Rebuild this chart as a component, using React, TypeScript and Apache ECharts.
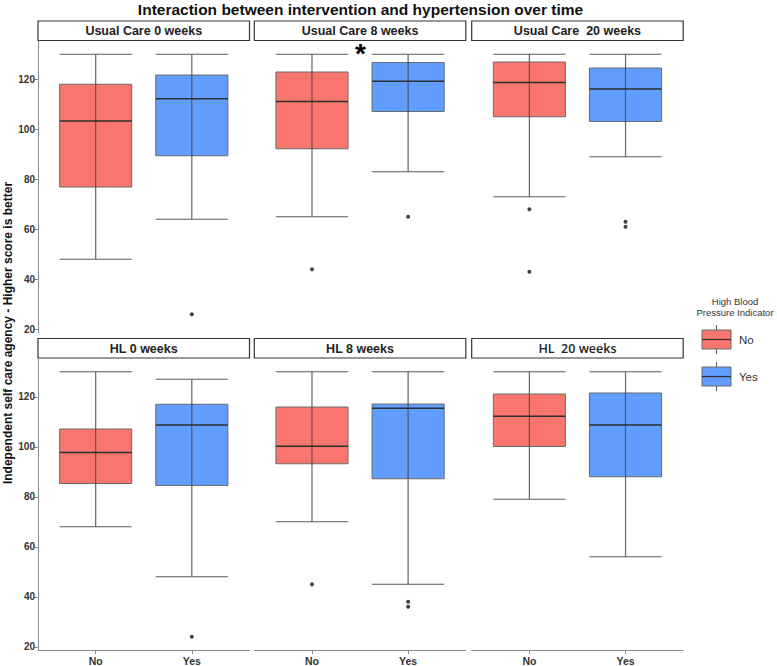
import React, { useEffect, useRef } from "react";
import * as echarts from "echarts";

const panelTitles = [
  "Usual Care 0 weeks",
  "Usual Care 8 weeks",
  "Usual Care  20 weeks",
  "HL 0 weeks",
  "HL 8 weeks",
  "HL  20 weeks",
];
const groups = ["No", "Yes"];
const yTicks = [20, 40, 60, 80, 100, 120];

// [min, Q1, median, Q3, max] for "No" per panel
const statsNo = [
  [48, 76.9, 103.3, 118, 130],
  [65, 92.2, 111.1, 122.9, 130],
  [73, 105, 118.7, 126.9, 130],
  [68, 85.3, 97.7, 107.1, 130],
  [70, 93.2, 100.2, 115.9, 130],
  [79, 100.1, 112.2, 121.1, 130],
];
// [min, Q1, median, Q3, max] for "Yes" per panel
const statsYes = [
  [64, 89.4, 112.2, 121.7, 130],
  [83, 107.1, 119.2, 126.7, 130],
  [89, 103.1, 116.1, 124.5, 130],
  [48, 84.5, 108.7, 117, 127],
  [45, 87.2, 115.4, 117.1, 130],
  [56, 88, 108.7, 121.5, 130],
];
const outliersNo = [[], [44], [68, 43], [], [45], []];
const outliersYes = [[26], [65], [63, 61], [24], [38, 36], []];

const RED = "#F8766D";
const BLUE = "#619CFF";
const colors = [RED, BLUE];

const panelLefts = [38, 254.3, 471.7];
const panelTops = [41, 358.5];
const panelW = 211.5;
const panelH = 291.5;
const stripH = 19.5;
const FONT = "'Liberation Sans', Arial, sans-serif";

export default function App() {
  const ref = useRef<HTMLDivElement>(null);
  useEffect(() => {
    if (!ref.current) return;
    const chart = echarts.init(ref.current, null, { renderer: "svg" });
    const grids: any[] = [];
    const xAxes: any[] = [];
    const yAxes: any[] = [];
    const series: any[] = [];
    const graphics: any[] = [];
    for (let i = 0; i < 6; i++) {
      const r = Math.floor(i / 3);
      const c = i % 3;
      const left = panelLefts[c];
      const top = panelTops[r];
      grids.push({ left, top, width: panelW, height: panelH });
      xAxes.push({
        type: "value",
        gridIndex: i,
        min: -0.6,
        max: 1.6,
        splitLine: { show: false },
        axisLine: { show: r === 1, onZero: false, lineStyle: { color: "#8c8c8c", width: 1 } },
        axisTick: { show: r === 1, length: 4, customValues: [0, 1], lineStyle: { color: "#8c8c8c" } },
        axisLabel: {
          show: r === 1,
          customValues: [0, 1],
          formatter: (v: number) => groups[Math.round(v)] ?? "",
          color: "#333",
          fontWeight: "bold",
          fontSize: 10.5,
          fontFamily: FONT,
          margin: 5,
        },
      });
      yAxes.push({
        type: "value",
        gridIndex: i,
        min: 18.7,
        max: 135.3,
        splitLine: { show: false },
        axisLine: { show: c === 0, onZero: false, lineStyle: { color: "#8c8c8c", width: 1 } },
        axisTick: { show: c === 0, length: 4, customValues: yTicks, lineStyle: { color: "#8c8c8c" } },
        axisLabel: {
          show: c === 0,
          customValues: yTicks,
          color: "#333",
          fontWeight: "bold",
          fontSize: 10,
          fontFamily: FONT,
          margin: 3,
        },
      });
      const data = [
        [0, ...statsNo[i], 0],
        [1, ...statsYes[i], 1],
      ];
      series.push({
        type: "custom",
        xAxisIndex: i,
        yAxisIndex: i,
        data,
        encode: { x: 0, y: [1, 2, 3, 4, 5] },
        renderItem: (params: any, api: any) => {
          const x = api.value(0);
          const pMin = api.coord([x, api.value(1)]);
          const pQ1 = api.coord([x, api.value(2)]);
          const pMed = api.coord([x, api.value(3)]);
          const pQ3 = api.coord([x, api.value(4)]);
          const pMax = api.coord([x, api.value(5)]);
          const w = api.size([0.75, 0])[0];
          const h = w / 2;
          const cx = pMed[0];
          const col = colors[api.value(6)];
          const lineStyle = { stroke: "#5a5a5a", lineWidth: 1.2 };
          return {
            type: "group",
            children: [
              { type: "line", shape: { x1: cx - h, y1: pMax[1], x2: cx + h, y2: pMax[1] }, style: lineStyle },
              { type: "line", shape: { x1: cx - h, y1: pMin[1], x2: cx + h, y2: pMin[1] }, style: lineStyle },
              {
                type: "rect",
                shape: { x: cx - h, y: pQ3[1], width: w, height: pQ1[1] - pQ3[1] },
                style: { fill: col, stroke: "#6a6a6a", lineWidth: 1 },
              },
              { type: "line", shape: { x1: cx, y1: pMax[1], x2: cx, y2: pMin[1] }, style: { stroke: "#4a4a4a", lineWidth: 1.2, opacity: 0.85 } },
              { type: "line", shape: { x1: cx - h, y1: pMed[1], x2: cx + h, y2: pMed[1] }, style: { stroke: "#2e2e2e", lineWidth: 1.6 } },
            ],
          };
        },
      });
      const outData: number[][] = [];
      outliersNo[i].forEach((v) => outData.push([0, v]));
      outliersYes[i].forEach((v) => outData.push([1, v]));
      series.push({
        type: "scatter",
        xAxisIndex: i,
        yAxisIndex: i,
        data: outData,
        symbolSize: 4,
        itemStyle: { color: "#111" },
      });
      const stripTop = r === 0 ? 21 : 338.5;
      graphics.push({
        type: "rect",
        shape: { x: left, y: stripTop, width: panelW, height: stripH },
        style: { fill: "#fff", stroke: "#333", lineWidth: 1.2 },
      });
      graphics.push({
        type: "text",
        x: left + panelW / 2,
        y: stripTop + stripH / 2 + 0.5,
        style: {
          text: panelTitles[i],
          fill: "#222",
          font: i === 5 ? `600 12.5px 'Open Sans', sans-serif` : `bold 12.5px ${FONT}`,
          textAlign: "center",
          textVerticalAlign: "middle",
        },
      });
    }

    // title
    graphics.push({
      type: "text",
      x: 360.5,
      y: 9,
      style: {
        text: "Interaction between intervention and hypertension over time",
        fill: "#111",
        font: `bold 15.5px ${FONT}`,
        textAlign: "center",
        textVerticalAlign: "middle",
      },
    });
    // y axis title
    graphics.push({
      type: "text",
      x: 8,
      y: 333,
      rotation: Math.PI / 2,
      style: {
        text: "Independent self care agency - Higher score is better",
        fill: "#111",
        font: `bold 12px ${FONT}`,
        textAlign: "center",
        textVerticalAlign: "middle",
      },
    });
    // asterisk
    graphics.push({
      type: "text",
      x: 360.5,
      y: 53,
      style: {
        text: "*",
        fill: "#000",
        font: `bold 28px ${FONT}`,
        textAlign: "center",
        textVerticalAlign: "middle",
      },
    });
    // legend
    graphics.push({
      type: "text",
      x: 735,
      y: 307,
      style: {
        text: "High Blood\nPressure Indicator",
        fill: "#333",
        font: `9.5px ${FONT}`,
        lineHeight: 10.5,
        textAlign: "center",
        textVerticalAlign: "middle",
      },
    });
    const keyTops = [330, 367];
    groups.forEach((g, k) => {
      const t = keyTops[k];
      graphics.push({ type: "line", shape: { x1: 716.5, y1: t - 5, x2: 716.5, y2: t }, style: { stroke: "#5a5a5a", lineWidth: 1 } });
      graphics.push({ type: "line", shape: { x1: 716.5, y1: t + 19, x2: 716.5, y2: t + 24 }, style: { stroke: "#5a5a5a", lineWidth: 1 } });
      graphics.push({ type: "rect", shape: { x: 702, y: t, width: 29, height: 19 }, style: { fill: colors[k], stroke: "#6a6a6a", lineWidth: 1 } });
      graphics.push({ type: "line", shape: { x1: 702, y1: t + 9.5, x2: 731, y2: t + 9.5 }, style: { stroke: "#2e2e2e", lineWidth: 1.2 } });
      graphics.push({
        type: "text",
        x: 739,
        y: t + 10,
        style: { text: g, fill: "#333", font: `11.5px ${FONT}`, textAlign: "left", textVerticalAlign: "middle" },
      });
    });

    chart.setOption({
      animation: false,
      backgroundColor: "#fff",
      grid: grids,
      xAxis: xAxes,
      yAxis: yAxes,
      series,
      graphic: graphics,
    });
    return () => chart.dispose();
  }, []);
  return <div ref={ref} style={{ position: "absolute", left: 0, top: 0, width: 777, height: 666 }} />;
}
